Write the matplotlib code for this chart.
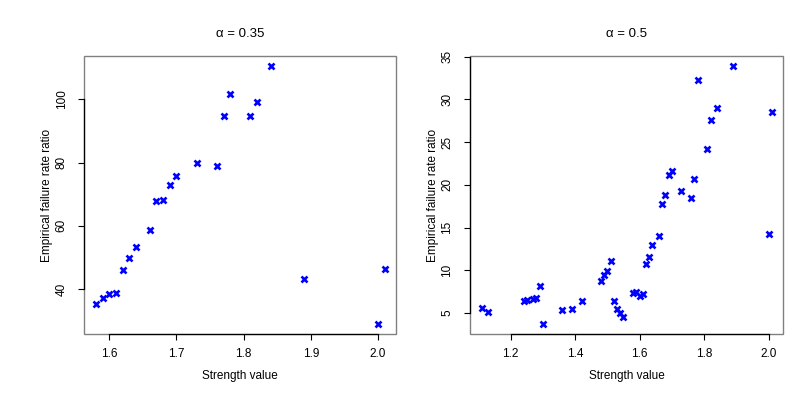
### empirical failure rate ratio vs strength value -- two panels ###
import numpy as np
import matplotlib.pyplot as plt
from matplotlib.patches import Rectangle

plt.rcParams['font.family'] = ['Liberation Sans', 'DejaVu Sans']

# alpha = 0.35
strength_035 = [1.58, 1.59, 1.60, 1.61, 1.62, 1.63, 1.64, 1.66, 1.67, 1.68,
                1.69, 1.70, 1.73, 1.76, 1.77, 1.78, 1.81, 1.82, 1.84, 1.89,
                2.00, 2.01]
ratio_035 = [35.3, 37.3, 38.5, 38.7, 46.0, 49.9, 53.4, 58.7, 68.0, 68.2,
             72.8, 75.7, 80.0, 78.8, 94.6, 101.6, 94.6, 99.1, 110.4, 43.3,
             29.0, 46.4]

# alpha = 0.5
strength_05 = [1.11, 1.13, 1.24, 1.25, 1.27, 1.28, 1.29, 1.30, 1.36, 1.39,
               1.42, 1.48, 1.49, 1.50, 1.51, 1.52, 1.53, 1.54, 1.55, 1.58,
               1.59, 1.60, 1.61, 1.62, 1.63, 1.64, 1.66, 1.67, 1.68, 1.69,
               1.70, 1.73, 1.76, 1.77, 1.78, 1.81, 1.82, 1.84, 1.89, 2.00,
               2.01]
ratio_05 = [5.58, 5.08, 6.37, 6.48, 6.63, 6.75, 8.12, 3.72, 5.35, 5.47,
            6.40, 8.78, 9.44, 9.95, 11.07, 6.37, 5.47, 5.00, 4.58, 7.33,
            7.42, 7.03, 7.26, 10.69, 11.62, 12.98, 14.07, 17.80, 18.82, 21.19,
            21.62, 19.29, 18.42, 20.64, 32.24, 24.19, 27.65, 29.01, 33.88, 14.22,
            28.51]

panels = [
    ('\u03b1 = 0.35', strength_035, ratio_035, [1.6, 1.7, 1.8, 1.9, 2.0], [40, 60, 80, 100]),
    ('\u03b1 = 0.5', strength_05, ratio_05, [1.2, 1.4, 1.6, 1.8, 2.0], [5, 10, 15, 20, 25, 30, 35]),
]
axes_pos = [[0.1043, 0.1806, 0.3862, 0.6821], [0.5817, 0.1806, 0.3878, 0.6821]]

fig = plt.figure(figsize=(8.08, 4.08), dpi=100)

for (title, xs, ys, xt, yt), pos in zip(panels, axes_pos):
    ax = fig.add_axes(pos)
    ax.plot(xs, ys, linestyle='none', marker='x', color='#0000FF',
            markersize=4.5, markeredgewidth=1.9)

    # R style 4% padding
    xr = max(xs) - min(xs)
    yr = max(ys) - min(ys)
    ax.set_xlim(min(xs) - 0.04 * xr, max(xs) + 0.04 * xr)
    ax.set_ylim(min(ys) - 0.04 * yr, max(ys) + 0.04 * yr)

    ax.set_xticks(xt)
    ax.set_xticklabels([f'{v:.1f}' for v in xt])
    ax.set_yticks(yt)
    ax.set_yticklabels([str(v) for v in yt], rotation=90, va='center')
    ax.tick_params(length=4, width=0.8, color='black', labelsize=8.5)
    ax.tick_params(axis='x', pad=6)
    ax.tick_params(axis='y', pad=8)

    # box in gray, axis lines only across the ticks
    for s in ['top', 'right']:
        ax.spines[s].set_visible(False)
    ax.spines['left'].set_bounds(yt[0], yt[-1])
    ax.spines['bottom'].set_bounds(xt[0], xt[-1])
    ax.spines['left'].set_color('black')
    ax.spines['bottom'].set_color('black')
    ax.spines['left'].set_linewidth(0.9)
    ax.spines['bottom'].set_linewidth(0.9)
    ax.add_patch(Rectangle((0, 0), 1, 1, transform=ax.transAxes, fill=False,
                           edgecolor='#808080', linewidth=1.0, clip_on=False))

    ax.set_title(title, fontsize=9.5, pad=13.5)
    ax.set_xlabel('Strength value', fontsize=8.5, labelpad=7)
    ax.set_ylabel('Empirical failure rate ratio', fontsize=8.5, labelpad=2)

plt.savefig('out.png', dpi=100, facecolor='white')
